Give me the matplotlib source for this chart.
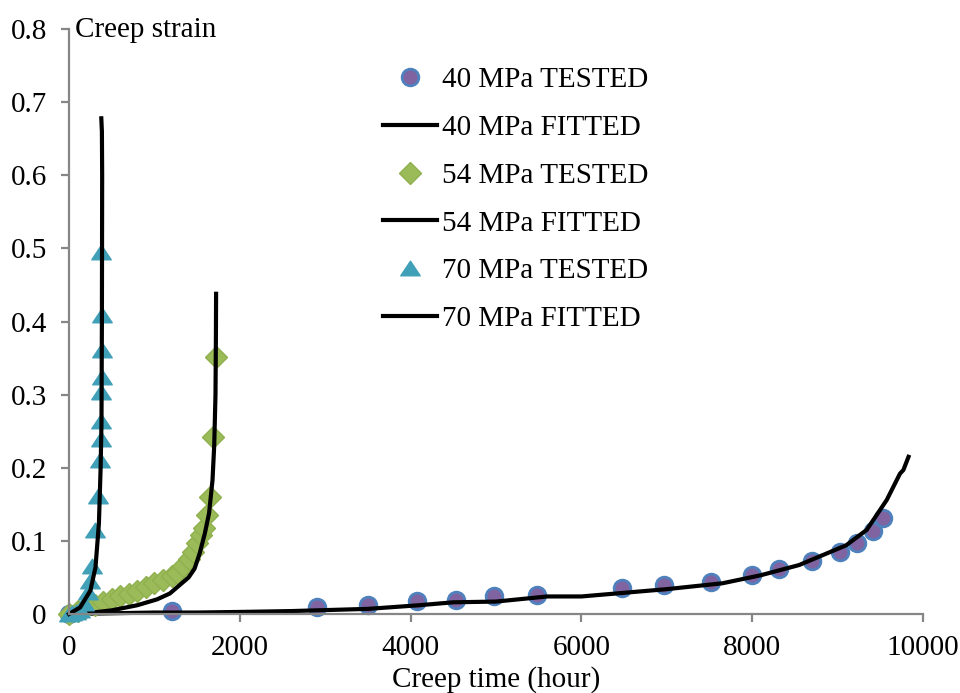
import matplotlib
matplotlib.use("Agg")
import matplotlib.pyplot as plt
from matplotlib.path import Path

plt.rcParams['font.family'] = ['Liberation Serif', 'DejaVu Serif']
plt.rcParams['font.size'] = 21

# 40 MPa creep test
t40_test = [0, 1206, 2900, 3497, 4071, 4532, 4980, 5476, 6471, 6967, 7518,
            7994, 8318, 8696, 9028, 9231, 9419, 9535]
s40_test = [0, 0.004, 0.010, 0.012, 0.018, 0.019, 0.024, 0.026, 0.035, 0.040,
            0.044, 0.053, 0.062, 0.072, 0.085, 0.097, 0.113, 0.131]
t40_fit = [0, 500, 1000, 1500, 2100, 2600, 3500, 4100, 4500, 5000, 5600, 6000,
           6200, 6800, 7000, 7650, 8100, 8550, 9100, 9340, 9575, 9730, 9770, 9830]
s40_fit = [0, 0.001, 0.002, 0.002, 0.003, 0.004, 0.007, 0.012, 0.016, 0.017,
           0.024, 0.024, 0.026, 0.032, 0.034, 0.042, 0.053, 0.067, 0.094,
           0.115, 0.156, 0.192, 0.197, 0.215]

# 54 MPa creep test
t54_test = [0, 100, 200, 300, 400, 500, 600, 700, 800, 900, 1000, 1100, 1200,
            1260, 1340, 1400, 1450, 1500, 1540, 1580, 1620, 1650, 1690, 1720]
s54_test = [0, 0.004, 0.009, 0.012, 0.016, 0.020, 0.024, 0.028, 0.032, 0.037,
            0.042, 0.047, 0.052, 0.056, 0.065, 0.075, 0.085, 0.097, 0.108,
            0.118, 0.135, 0.160, 0.242, 0.351]
t54_fit = [0, 200, 500, 800, 1030, 1180, 1300, 1400, 1470, 1530, 1590, 1640,
           1680, 1700, 1715, 1720, 1722]
s54_fit = [0, 0.001, 0.005, 0.012, 0.020, 0.028, 0.040, 0.050, 0.062, 0.083,
           0.110, 0.138, 0.183, 0.230, 0.300, 0.380, 0.438]

# 70 MPa creep test
t70_test = [0, 40, 80, 130, 180, 220, 250, 270, 310, 338, 361, 369, 372, 380,
            382, 385, 385, 375]
s70_test = [0, 0.001, 0.003, 0.006, 0.015, 0.030, 0.045, 0.065, 0.115, 0.161,
            0.211, 0.239, 0.264, 0.303, 0.324, 0.361, 0.409, 0.495]
t70_fit = [0, 130, 250, 310, 350, 370, 380, 385, 388, 385, 378]
s70_fit = [0, 0.009, 0.032, 0.064, 0.124, 0.200, 0.260, 0.400, 0.600, 0.660,
           0.678]

# wide, flat triangle marker
tri = Path([(-1, -0.75), (1, -0.75), (0, 0.75), (-1, -0.75)],
           [Path.MOVETO, Path.LINETO, Path.LINETO, Path.CLOSEPOLY])

fig = plt.figure(figsize=(9.6, 6.93), dpi=100)
ax = fig.add_axes([0.0719, 0.114, 0.8896, 0.844])

ax.plot(t40_test, s40_test, 'o', ms=12, mfc='#8064a2', mec='#4f81bd', mew=2,
        clip_on=False, label='40 MPa TESTED')
ax.plot(t40_fit, s40_fit, color='black', lw=3, clip_on=False, label='40 MPa FITTED')
ax.plot(t54_test, s54_test, 'D', ms=11, mfc='#9bbb59', mec='#8fb04f', mew=1,
        clip_on=False, label='54 MPa TESTED')
ax.plot(t54_fit, s54_fit, color='black', lw=3, clip_on=False, label='54 MPa FITTED')
ax.plot(t70_test, s70_test, ls='none', marker=tri, ms=14, mfc='#40a0b8',
        mec='#40a0b8', mew=1, clip_on=False, label='70 MPa TESTED')
ax.plot(t70_fit, s70_fit, color='black', lw=3, clip_on=False, label='70 MPa FITTED')

ax.set_xlim(0, 10000)
ax.set_ylim(0, 0.8)
ax.set_xticks(range(0, 10001, 2000))
yt = [i / 10 for i in range(9)]
ax.set_yticks(yt)
ax.set_yticklabels(['0'] + ['%.1f' % v for v in yt[1:]])

for side in ['top', 'right']:
    ax.spines[side].set_visible(False)
for side in ['left', 'bottom']:
    ax.spines[side].set_color('#868686')
    ax.spines[side].set_linewidth(1.6)
ax.tick_params(axis='both', direction='out', length=6, width=1.6,
               color='#868686', labelsize=21)
ax.tick_params(axis='y', pad=10)
ax.tick_params(axis='x', pad=9)

ax.set_xlabel('Creep time (hour)', fontsize=21, labelpad=4)
fig.text(75 / 960, 1 - 30 / 693, 'Creep strain', fontsize=21, va='center', ha='left')

fig.legend(loc='upper left', bbox_to_anchor=(383 / 960, 1 - 67 / 693),
           frameon=False, borderpad=0, borderaxespad=0, handlelength=1.85,
           handletextpad=0.17, labelspacing=0.73, fontsize=21)

fig.savefig('out.png', dpi=100)
